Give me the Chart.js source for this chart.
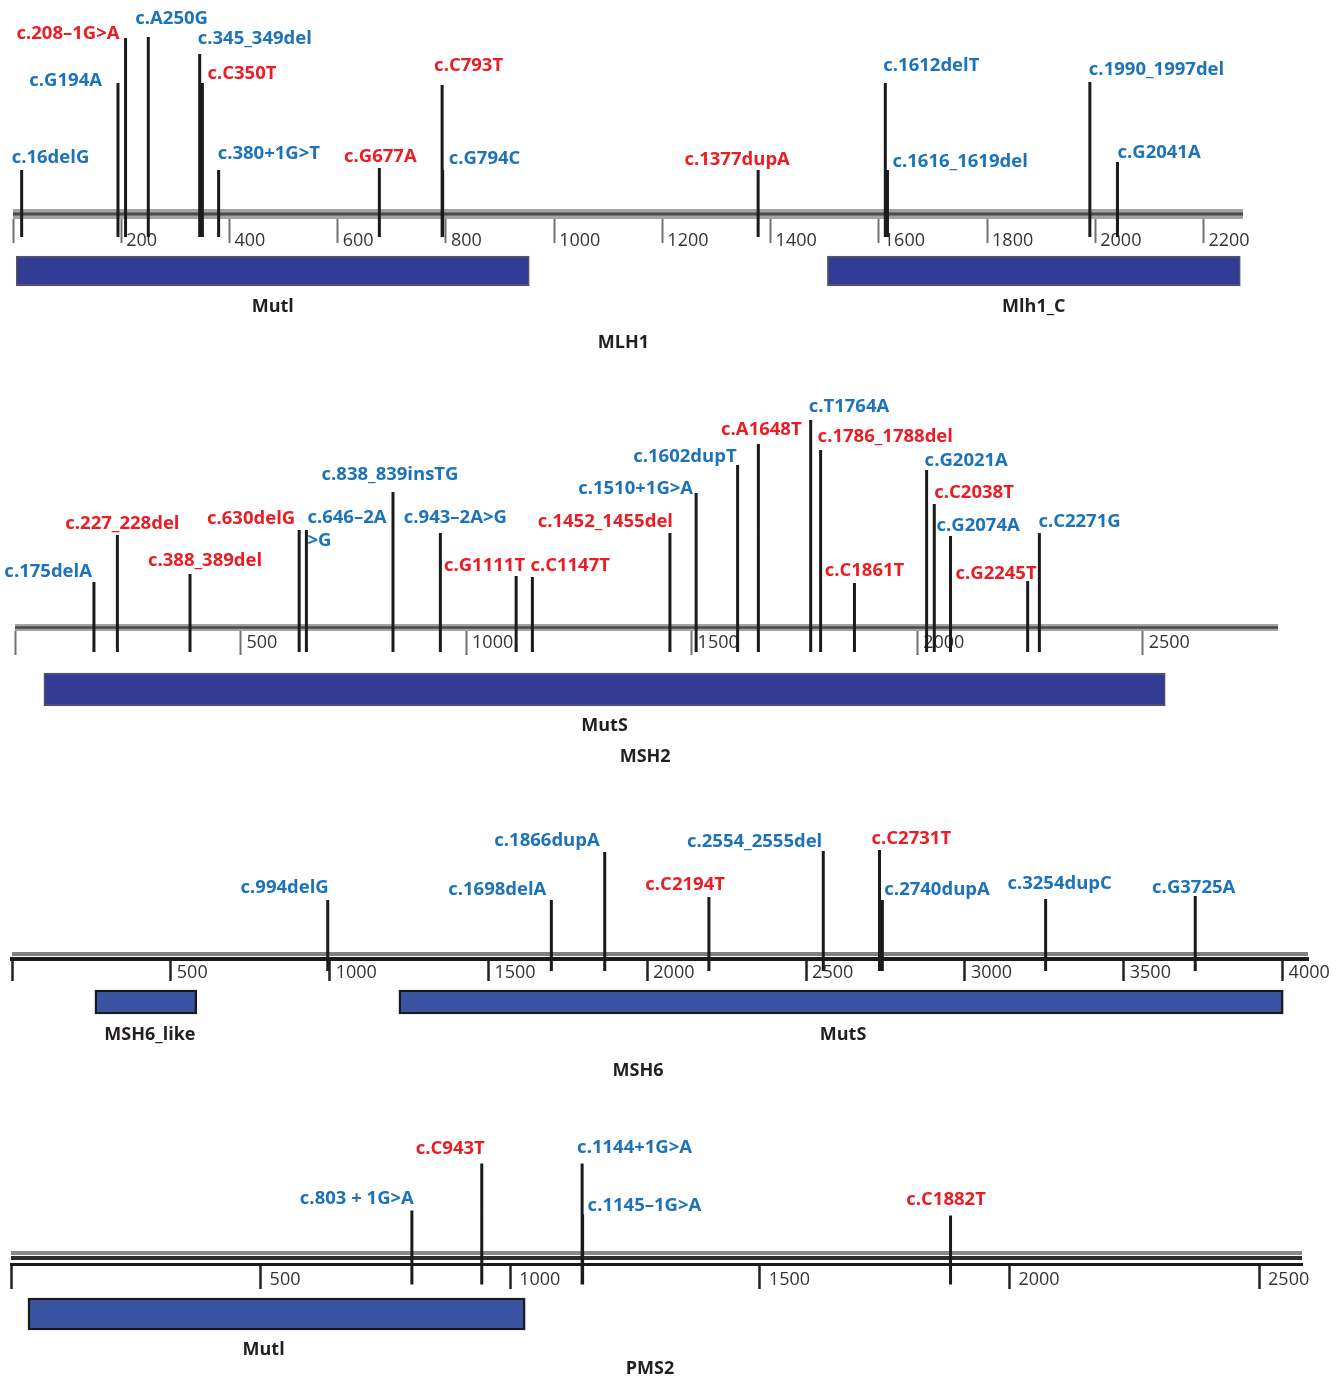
<!DOCTYPE html>
<html>
<head>
<meta charset="utf-8">
<title>MMR gene variants</title>
<script src="https://cdn.jsdelivr.net/npm/chart.js@4.4.0/dist/chart.umd.min.js"></script>
<style>
  html, body { margin: 0; padding: 0; background: #fff; }
  #page { position: relative; width: 1339px; height: 1380px; overflow: hidden; }
  #page canvas { position: absolute; left: 0; }
</style>
</head>
<body>
<div id="page">
  <canvas id="mlh1" width="1339" height="360" style="top:0px"></canvas>
  <canvas id="msh2" width="1339" height="400" style="top:380px"></canvas>
  <canvas id="msh6" width="1339" height="270" style="top:820px"></canvas>
  <canvas id="pms2" width="1339" height="250" style="top:1130px"></canvas>
</div>
<script>
// ---- MLH1 ----
const MLH1_variants = ['c.16delG', 'c.G194A', 'c.208–1G>A', 'c.A250G', 'c.345_349del', 'c.C350T', 'c.380+1G>T',
  'c.G677A', 'c.C793T', 'c.G794C', 'c.1377dupA', 'c.1612delT', 'c.1616_1619del', 'c.1990_1997del', 'c.G2041A'];
const MLH1_positions = [16, 194, 208, 250, 345, 350, 380, 677, 793, 794, 1377, 1612, 1616, 1990, 2041];
const MLH1_heights = [49, 136, 181, 182, 165, 136, 49, 51, 134, 49, 49, 136, 49, 137, 57];
const MLH1_sets = [2, 2, 1, 2, 2, 1, 2, 1, 1, 2, 1, 2, 2, 2, 2];   // 1 = red, 2 = blue
const MLH1_domains = ['Mutl', 'Mlh1_C'];
const MLH1_domainStart = [6, 1505];
const MLH1_domainEnd = [954, 2268];
const MLH1_ticks = [0, 200, 400, 600, 800, 1000, 1200, 1400, 1600, 1800, 2000, 2200];
const MLH1_length = 2273;

// ---- MSH2 ----
const MSH2_variants = ['c.175delA', 'c.227_228del', 'c.388_389del', 'c.630delG', 'c.646–2A\n>G', 'c.838_839insTG',
  'c.943–2A>G', 'c.G1111T', 'c.C1147T', 'c.1452_1455del', 'c.1510+1G>A', 'c.1602dupT', 'c.A1648T', 'c.T1764A',
  'c.1786_1788del', 'c.C1861T', 'c.G2021A', 'c.C2038T', 'c.G2074A', 'c.G2245T', 'c.C2271G'];
const MSH2_positions = [175, 227, 388, 630, 646, 838, 943, 1111, 1147, 1452, 1510, 1602, 1648, 1764, 1786, 1861, 2021, 2038, 2074, 2245, 2271];
const MSH2_heights = [49, 96, 57, 101, 101, 139, 98, 55, 54, 98, 138, 166, 187, 211, 181, 48, 161, 127, 95, 50, 98];
const MSH2_sets = [2, 1, 1, 1, 2, 2, 2, 1, 1, 1, 2, 2, 1, 2, 1, 1, 2, 1, 2, 1, 2];
const MSH2_domains = ['MutS'];
const MSH2_domainStart = [64];
const MSH2_domainEnd = [2550];
const MSH2_ticks = [0, 500, 1000, 1500, 2000, 2500];
const MSH2_length = 2800;

// ---- MSH6 ----
const MSH6_variants = ['c.994delG', 'c.1698delA', 'c.1866dupA', 'c.C2194T', 'c.2554_2555del', 'c.C2731T',
  'c.2740dupA', 'c.3254dupC', 'c.G3725A'];
const MSH6_positions = [994, 1698, 1866, 2194, 2554, 2731, 2740, 3254, 3725];
const MSH6_heights = [59, 59, 107, 62, 108, 109, 59, 60, 63];
const MSH6_sets = [2, 2, 2, 1, 2, 1, 2, 2, 2];
const MSH6_domains = ['MSH6_like', 'MutS'];
const MSH6_domainStart = [261, 1218];
const MSH6_domainEnd = [582, 4002];
const MSH6_ticks = [0, 500, 1000, 1500, 2000, 2500, 3000, 3500, 4000];
const MSH6_length = 4080;

// ---- PMS2 ----
const PMS2_variants = ['c.803 + 1G>A', 'c.C943T', 'c.1144+1G>A', 'c.1145–1G>A', 'c.C1882T'];
const PMS2_positions = [803, 943, 1144, 1145, 1882];
const PMS2_heights = [54, 101, 101, 50, 49];
const PMS2_sets = [2, 1, 2, 2, 1];
const PMS2_domains = ['Mutl'];
const PMS2_domainStart = [34];
const PMS2_domainEnd = [1030];
const PMS2_ticks = [0, 500, 1000, 1500, 2000, 2500];
const PMS2_length = 2586;

const RED = '#ec1c24';
const BLUE = '#1c73b9';
const INK = '#231f20';
const FONT = '"Open Sans", "DejaVu Sans", sans-serif';

Chart.defaults.font.family = FONT;

// one protein track: axis, domains, variant stems and their captions
function drawTrack(canvasId, gene, d, look) {
  const canvas = document.getElementById(canvasId);
  const H = canvas.height;

  // every stem is its own segment, split by a null point
  const stems = [];
  d.positions.forEach((p, i) => {
    stems.push({x: p, y: -look.stemDepth}, {x: p, y: d.heights[i]}, {x: p, y: null});
  });

  // later band lines sit on top of earlier ones
  const bands = look.band.map((b, i) => ({
    type: 'line',
    data: [{x: 0, y: b.y}, {x: d.length, y: b.y}],
    borderColor: b.color,
    borderWidth: b.width,
    borderCapStyle: 'butt',
    pointRadius: 0,
    order: 5 - i * 0.1
  }));

  const captions = {
    id: 'variantCaptions',
    afterDatasetsDraw(chart) {
      const {ctx, scales: {x, y}} = chart;
      ctx.save();
      ctx.textBaseline = 'middle';
      ctx.font = 'bold 18.5px ' + FONT;
      d.variants.forEach((name, i) => {
        const [align, dx, dy] = look.labelPlace[i];
        const px = x.getPixelForValue(d.positions[i]) + dx;
        const py = y.getPixelForValue(d.heights[i]) + dy;
        ctx.textAlign = align;
        ctx.fillStyle = d.sets[i] === 1 ? RED : BLUE;
        name.split('\n').forEach((line, k) => ctx.fillText(line, px, py + k * 23));
      });
      ctx.font = 'bold 18px ' + FONT;
      ctx.fillStyle = INK;
      ctx.textAlign = 'center';
      d.domains.forEach((name, i) => {
        const cx = x.getPixelForValue((d.domainStart[i] + d.domainEnd[i]) / 2) + (look.captionShift[i] || 0);
        ctx.fillText(name, cx, y.getPixelForValue(look.domainCaptionY));
      });
      ctx.fillText(gene, x.getPixelForValue(look.geneX), y.getPixelForValue(look.geneY));
      ctx.restore();
    }
  };

  const chart = new Chart(canvas.getContext('2d'), {
    type: 'line',
    data: {
      datasets: [
        {
          type: 'line',
          data: stems,
          borderColor: '#1b1b1b',
          borderWidth: 3,
          borderCapStyle: 'butt',
          pointRadius: 0,
          spanGaps: false,
          order: 0
        },
        {
          type: 'bar',
          indexAxis: 'y',
          data: d.domains.map((n, i) => ({x: [d.domainStart[i], d.domainEnd[i]], y: look.domainY})),
          backgroundColor: look.domainFill,
          borderColor: look.domainEdge,
          borderWidth: look.domainEdgeWidth,
          borderSkipped: false,
          barThickness: look.domainHeight,
          order: 2
        },
        ...bands
      ]
    },
    options: {
      responsive: false,
      animation: false,
      events: [],
      layout: {padding: {left: look.left, right: canvas.width - look.right, top: 0, bottom: 0}},
      plugins: {legend: {display: false}, tooltip: {enabled: false}},
      scales: {
        x: {
          type: 'linear',
          min: 0,
          max: d.length,
          offset: false,
          position: {y: 0},
          afterBuildTicks: axis => { axis.ticks = d.ticks.map(v => ({value: v})); },
          grid: {
            drawOnChartArea: false,
            drawTicks: true,
            tickLength: look.tickLength,
            tickColor: look.tickColor,
            tickWidth: look.tickWidth
          },
          border: {display: look.axisWidth > 0, color: '#1a1a1a', width: look.axisWidth || 1},
          ticks: {
            align: 'start',
            labelOffset: look.tickLabelShift,
            padding: look.tickPadding,
            color: '#333333',
            font: {size: 18},
            maxRotation: 0,
            autoSkip: false,
            callback: v => (v === 0 ? '' : String(v))
          }
        },
        // hidden; one unit per canvas pixel, 0 on the axis line
        y: {type: 'linear', display: false, offset: false, min: look.base - H, max: look.base}
      }
    },
    plugins: [captions]
  });
  return chart;
}

drawTrack('mlh1', 'MLH1', {
  variants: MLH1_variants, positions: MLH1_positions, heights: MLH1_heights, sets: MLH1_sets,
  domains: MLH1_domains, domainStart: MLH1_domainStart, domainEnd: MLH1_domainEnd,
  ticks: MLH1_ticks, length: MLH1_length
}, {
  left: 13, right: 1243, base: 219, stemDepth: 18,
  band: [{y: 5, width: 10, color: '#a3a3a3'}, {y: 5, width: 3, color: '#4a4a4a'}],
  axisWidth: 0, tickLength: 24, tickColor: '#707070', tickWidth: 2, tickLabelShift: 5, tickPadding: -13,
  domainY: -52, domainHeight: 30, domainFill: '#333c94', domainEdge: '#55555d', domainEdgeWidth: 1.5,
  domainCaptionY: -88, captionShift: [], geneX: 1128, geneY: -124,
  labelPlace: [['left', -10, -12], ['right', -16, -2], ['right', -6, -4], ['left', -13, -18], ['left', -2, -15],
    ['left', 5, -9], ['left', -1, -16], ['center', 1, -11], ['left', -8, -19], ['left', 6, -11],
    ['center', -21, -10], ['left', -2, -17], ['left', 5, -8], ['left', -1, -12], ['left', 0, -9]]
});

drawTrack('msh2', 'MSH2', {
  variants: MSH2_variants, positions: MSH2_positions, heights: MSH2_heights, sets: MSH2_sets,
  domains: MSH2_domains, domainStart: MSH2_domainStart, domainEnd: MSH2_domainEnd,
  ticks: MSH2_ticks, length: MSH2_length
}, {
  left: 15, right: 1278, base: 251, stemDepth: 21,
  band: [{y: 3.5, width: 7, color: '#a3a3a3'}, {y: 3.5, width: 2.5, color: '#4a4a4a'}],
  axisWidth: 0, tickLength: 24, tickColor: '#707070', tickWidth: 2, tickLabelShift: 6, tickPadding: -23,
  domainY: -58.5, domainHeight: 33, domainFill: '#333c94', domainEdge: '#55555d', domainEdgeWidth: 1.5,
  domainCaptionY: -95, captionShift: [], geneX: 1397, geneY: -126,
  labelPlace: [['right', -2, -10], ['center', 5, -11], ['center', 15, -13], ['right', -4, -11], ['left', 1, -12],
    ['center', -3, -17], ['center', 15, -15], ['right', 9, -10], ['left', -2, -11], ['right', 3, -11],
    ['right', -3, -4], ['right', -1, -8], ['center', 3, -14], ['left', -2, -13], ['left', -3, -13],
    ['center', 10, -12], ['left', -2, -9], ['left', 0, -11], ['left', -14, -10], ['right', 9, -7], ['left', -1, -11]]
});

drawTrack('msh6', 'MSH6', {
  variants: MSH6_variants, positions: MSH6_positions, heights: MSH6_heights, sets: MSH6_sets,
  domains: MSH6_domains, domainStart: MSH6_domainStart, domainEnd: MSH6_domainEnd,
  ticks: MSH6_ticks, length: MSH6_length
}, {
  left: 12, right: 1308, base: 139, stemDepth: 12,
  band: [{y: 5, width: 4, color: '#808080'}],
  axisWidth: 4, tickLength: 20, tickColor: '#222222', tickWidth: 2.5, tickLabelShift: 6, tickPadding: -17,
  domainY: -43, domainHeight: 24, domainFill: '#3a53a3', domainEdge: '#1a1a1a', domainEdgeWidth: 2.5,
  domainCaptionY: -76, captionShift: [4, 2], geneX: 1971, geneY: -112,
  labelPlace: [['right', 1, -12], ['right', -5, -10], ['right', -5, -11], ['right', 16, -12], ['right', -1, -9],
    ['left', -8, -11], ['left', 2, -10], ['center', 14, -15], ['center', -1.5, -8]]
});

drawTrack('pms2', 'PMS2', {
  variants: PMS2_variants, positions: PMS2_positions, heights: PMS2_heights, sets: PMS2_sets,
  domains: PMS2_domains, domainStart: PMS2_domainStart, domainEnd: PMS2_domainEnd,
  ticks: PMS2_ticks, length: PMS2_length
}, {
  left: 11, right: 1302, base: 134.5, stemDepth: 20,
  band: [{y: 11.5, width: 4, color: '#8a8a8a'}, {y: 6.5, width: 4, color: '#2e2e2e'}],
  axisWidth: 3, tickLength: 23, tickColor: '#222222', tickWidth: 2.5, tickLabelShift: 9, tickPadding: -18,
  domainY: -49.5, domainHeight: 32, domainFill: '#3a53a3', domainEdge: '#1a1a1a', domainEdgeWidth: 2.5,
  domainCaptionY: -85.5, captionShift: [-13], geneX: 1280, geneY: -104.5,
  labelPlace: [['right', 2, -12], ['right', 3, -15], ['left', -5, -16], ['left', 5, -9], ['center', -4.5, -16]]
});
</script>
</body>
</html>
